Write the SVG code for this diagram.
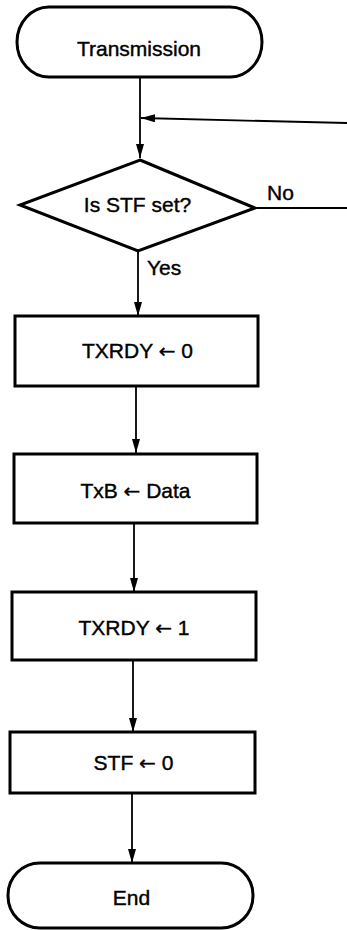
<svg xmlns="http://www.w3.org/2000/svg" width="347" height="930" viewBox="0 0 347 930">
<defs>
<style>
.shape{fill:#fff;stroke:#000;stroke-width:3}
.conn{fill:none;stroke:#000;stroke-width:1.8}
.t{font-family:"Liberation Sans",Arial,"DejaVu Sans",sans-serif;font-size:21px;fill:#000;stroke:#000;stroke-width:0.4;text-anchor:middle}
.l{font-family:"Liberation Sans",Arial,sans-serif;font-size:21px;fill:#000;stroke:#000;stroke-width:0.4}
.a{font-family:"DejaVu Sans",sans-serif;font-size:20px}
</style>
<marker id="ah" viewBox="0 0 14 8" refX="14" refY="4" markerWidth="14" markerHeight="8" markerUnits="userSpaceOnUse" orient="auto">
<path d="M0,0 L14,4 L0,8 Z" fill="#000"/>
</marker>
</defs>
<rect width="347" height="930" fill="#fff"/>
<g id="connectors">
<line class="conn" x1="140" y1="77" x2="140" y2="158" marker-end="url(#ah)"/>
<line class="conn" x1="347" y1="123" x2="141" y2="118" marker-end="url(#ah)"/>
<line class="conn" x1="255" y1="208" x2="347" y2="208"/>
<line class="conn" x1="138" y1="251" x2="138" y2="316" marker-end="url(#ah)"/>
<line class="conn" x1="136" y1="386" x2="136" y2="453" marker-end="url(#ah)"/>
<line class="conn" x1="134" y1="523" x2="134" y2="592" marker-end="url(#ah)"/>
<line class="conn" x1="133" y1="660" x2="133" y2="732" marker-end="url(#ah)"/>
<line class="conn" x1="132" y1="793" x2="132" y2="863" marker-end="url(#ah)"/>
<text class="l" x="267" y="200">No</text>
<text class="l" x="147" y="275">Yes</text>
</g>
<g id="start">
<rect class="shape" x="17" y="7" width="245" height="70" rx="32" ry="35"/>
<text class="t" x="139" y="56">Transmission</text>
</g>
<g id="decision">
<polygon class="shape" points="140,160 255,208 138,251 20,205"/>
<text class="t" x="137.5" y="212">Is STF set?</text>
</g>
<g id="txrdy0">
<rect class="shape" x="15" y="316" width="243" height="70"/>
<text class="t" x="137.5" y="358">TXRDY <tspan class="a">←</tspan> 0</text>
</g>
<g id="txb">
<rect class="shape" x="14" y="454" width="243" height="69"/>
<text class="t" x="135.5" y="498">TxB <tspan class="a">←</tspan> Data</text>
</g>
<g id="txrdy1">
<rect class="shape" x="12" y="592" width="244" height="68"/>
<text class="t" x="134" y="635">TXRDY <tspan class="a">←</tspan> 1</text>
</g>
<g id="stf0">
<rect class="shape" x="10" y="732" width="245" height="61"/>
<text class="t" x="133.5" y="770">STF <tspan class="a">←</tspan> 0</text>
</g>
<g id="end">
<rect class="shape" x="8" y="863" width="245" height="65" rx="32" ry="32"/>
<text class="t" x="131.5" y="905">End</text>
</g>
</svg>
